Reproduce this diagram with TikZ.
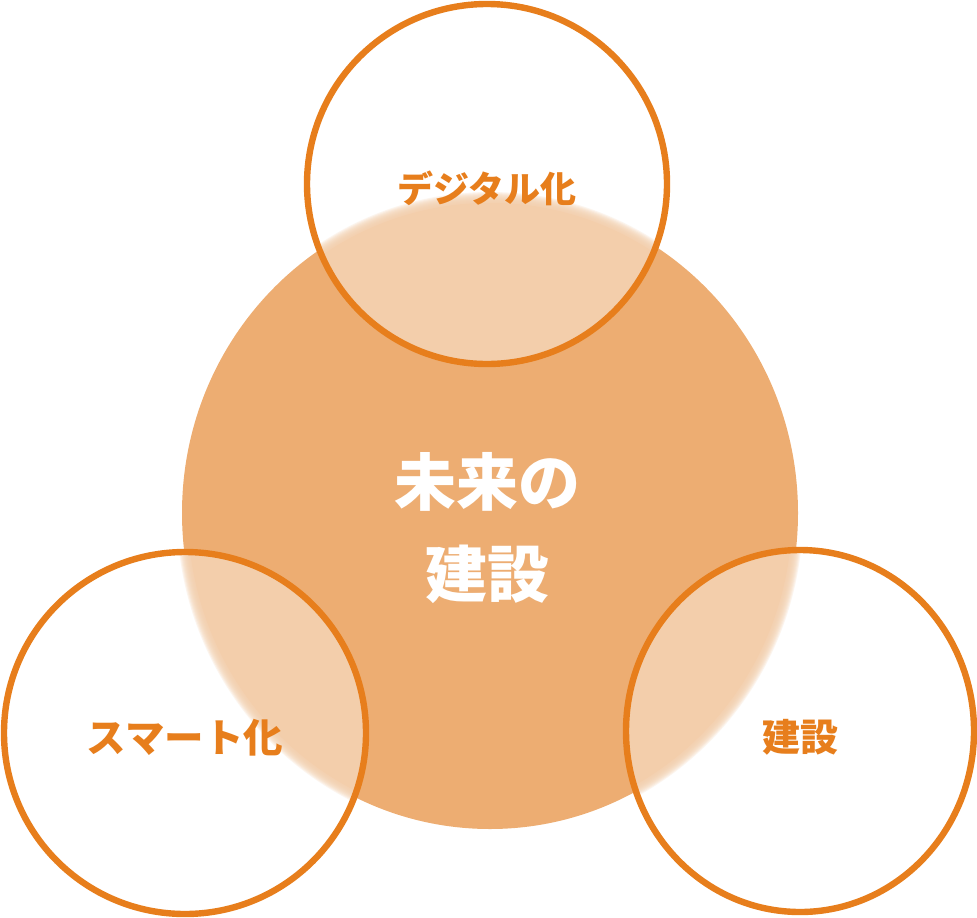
\documentclass[tikz,border=0pt]{standalone}
\usepackage{fontspec}
\newfontfamily\jp{Noto Sans CJK JP}
\definecolor{bigfill}{HTML}{EDAD72}
\definecolor{lightfill}{HTML}{F3CEAB}
\definecolor{ring}{HTML}{E77E1C}
\tikzset{
  ringline/.style={draw=ring, line width=6.4pt},
  smalllabel/.style={text=ring, font=\jp\bfseries\fontsize{36}{40}\selectfont, inner sep=0pt},
  biglabel/.style={text=white, font=\jp\bfseries\fontsize{62}{92}\selectfont, align=center, inner sep=0pt}
}
\begin{document}
\begin{tikzpicture}[x=1pt,y=-1pt]
\useasboundingbox (0,0) rectangle (977,918);
\coordinate (bigc) at (490,513);
\coordinate (topc) at (487,184);
\coordinate (leftc) at (185,733);
\coordinate (rightc) at (800,731);
% big circle
\fill[bigfill] (bigc) ellipse [x radius=308, y radius=316];
% small circles with frosted overlap
\foreach \c/\rx/\ry in {topc/180/180, leftc/181/181, rightc/174/181}{
  \begin{scope}
    \clip (\c) ellipse [x radius=\rx, y radius=\ry];
    \fill[white] (\c) ellipse [x radius=\rx, y radius=\ry];
    \fill[lightfill] (bigc) ellipse [x radius=302, y radius=310];
    \foreach \k in {-5,...,5}{
      \fill[lightfill, opacity=0.2] (bigc) ellipse [x radius=308+\k, y radius=316+\k];
    }
  \end{scope}
  \draw[ringline] (\c) ellipse [x radius=\rx, y radius=\ry];
}
% labels
\node[biglabel] (center) at (487,528) {未来の\\建設};
\node[smalllabel] (digital) at (487,188) {デジタル化};
\node[smalllabel, font=\jp\bfseries\fontsize{39.5}{42}\selectfont] (smart) at (185,738) {スマート化};
\node[smalllabel, font=\jp\bfseries\fontsize{38}{42}\selectfont] (build) at (800,737) {建設};
\end{tikzpicture}
\end{document}
